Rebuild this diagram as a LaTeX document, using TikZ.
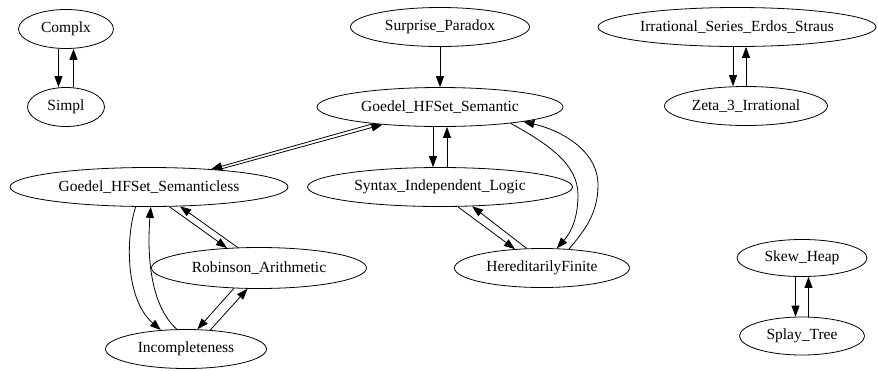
\documentclass[tikz,border=0pt]{standalone}
\usepackage{fontspec}
\setmainfont{Liberation Serif}
\usetikzlibrary{shapes.geometric,arrows.meta}
\begin{document}
\begin{tikzpicture}[x=1pt,y=-1pt,
  nd/.style={ellipse,draw,line width=0.8pt,inner sep=0pt,minimum height=39pt,
    font=\fontsize{15.5}{18}\selectfont},
  ar/.style={line width=0.8pt,-{Triangle[length=11pt,width=8pt]}}]
\useasboundingbox (0,0) rectangle (878,370);
% nodes
\node[nd,minimum width=95pt] (cx) at (66,29) {Complx};
\node[nd,minimum width=77pt] (sp) at (66,107) {Simpl};
\node[nd,minimum width=179pt] (sur) at (440,27) {Surprise\_Paradox};
\node[nd,minimum width=246pt] (sem) at (440,107) {Goedel\_HFSet\_Semantic};
\node[nd,minimum width=278pt] (irr) at (737,27) {Irrational\_Series\_Erdos\_Straus};
\node[nd,minimum width=163pt] (zeta) at (746,106) {Zeta\_3\_Irrational};
\node[nd,minimum width=278pt] (sl) at (149,187) {Goedel\_HFSet\_Semanticless};
\node[nd,minimum width=265pt] (syn) at (440,187) {Syntax\_Independent\_Logic};
\node[nd,minimum width=215pt,minimum height=41pt] (rob) at (259,268) {Robinson\_Arithmetic};
\node[nd,minimum width=175pt] (hf) at (542,268) {HereditarilyFinite};
\node[nd,minimum width=161pt] (inc) at (186,349) {Incompleteness};
\node[nd,minimum width=130pt,minimum height=37pt] (sk) at (802,258) {Skew\_Heap};
\node[nd,minimum width=125pt,minimum height=38pt] (spl) at (802,336) {Splay\_Tree};
% edges
\draw[ar] ([xshift=-7.5pt]cx.south) -- ([xshift=-7.5pt]sp.north);
\draw[ar] ([xshift=7.5pt]sp.north) -- ([xshift=7.5pt]cx.south);
\draw[ar] ([xshift=-4pt]irr.south) -- ([xshift=-13pt]zeta.north);
\draw[ar] ([xshift=0pt]zeta.north) -- ([xshift=9pt]irr.south);
\draw[ar] ([xshift=-6.5pt]sk.south) -- ([xshift=-6.5pt]spl.north);
\draw[ar] ([xshift=6.5pt]spl.north) -- ([xshift=6.5pt]sk.south);
\draw[ar] (sur.south) -- (sem.north);
\draw[ar] ([xshift=-7pt]sem.south) -- ([xshift=-7pt]syn.north);
\draw[ar] ([xshift=7pt]syn.north) -- ([xshift=7pt]sem.south);
\draw[ar] (sem.194.6) -- (sl.16.4);
\draw[ar] (sl.14.2) -- (sem.197.2);
\draw[ar] (sl.316.3) -- (rob.148);
\draw[ar] (rob.136.4) -- (sl.328.3);
\draw[ar] (rob.219.8) -- (inc.60.3);
\draw[ar] (inc.38.9) -- (rob.241.2);
\draw[ar] (sl.236.3) .. controls (125,240) and (126,300) .. (inc.143.1);
\draw[ar] (inc.115.5) .. controls (150,305) and (147,255) .. (sl.275.4);
\draw[ar] (syn.312.1) -- (hf.145.4);
\draw[ar] (hf.128.7) -- (syn.329);
\draw[ar] (sem.347.6) .. controls (550,145) and (578,165) .. (578,195)
  .. controls (578,225) and (566,238) .. (hf.53.1);
\draw[ar] (hf.35.5) .. controls (583,232) and (598,215) .. (598,185)
  .. controls (598,150) and (560,130) .. (sem.350.9);
\end{tikzpicture}
\end{document}
